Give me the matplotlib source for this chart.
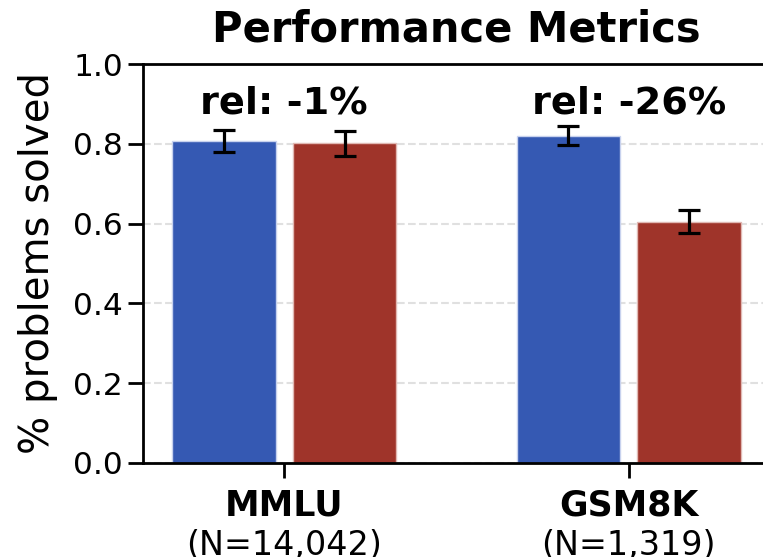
import matplotlib
matplotlib.use("Agg")
import matplotlib.pyplot as plt
import numpy as np

# data
benchmarks = ['MMLU', 'GSM8K']
sample_sizes = ['(N=14,042)', '(N=1,319)']
base_scores = [0.807, 0.820]
base_errors = [0.028, 0.024]
other_scores = [0.801, 0.605]
other_errors = [0.031, 0.029]
rel_labels = ['rel: -1%', 'rel: -26%']

blue = '#3559b3'
red = '#9f342a'

fig = plt.figure(figsize=(7.63, 5.57), dpi=100)
ax = fig.add_axes([143 / 763, 1 - 463 / 557, 627 / 763, 399 / 557])

x = np.arange(len(benchmarks))
width = 0.3
off = 0.175

ax.bar(x - off, base_scores, width, color=blue, edgecolor='#c8d2ee', linewidth=1, zorder=2)
ax.bar(x + off, other_scores, width, color=red, edgecolor='#e0b8b3', linewidth=1, zorder=2)
ax.errorbar(x - off, base_scores, yerr=base_errors, fmt='none', ecolor='black',
            elinewidth=2.3, capsize=8, capthick=2.3, zorder=3)
ax.errorbar(x + off, other_scores, yerr=other_errors, fmt='none', ecolor='black',
            elinewidth=2.3, capsize=8, capthick=2.3, zorder=3)

for i, lab in enumerate(rel_labels):
    ax.text(x[i], 0.877, lab, ha='center', va='baseline', fontsize=27.5, fontweight='bold')

ax.set_xlim(-0.41, 1.41)
ax.set_ylim(0, 1.0)
ax.set_yticks([0.0, 0.2, 0.4, 0.6, 0.8, 1.0])
ax.set_yticklabels(['0.0', '0.2', '0.4', '0.6', '0.8', '1.0'], fontsize=22.5)
ax.set_xticks(x)
ax.set_xticklabels(benchmarks, fontsize=25, fontweight='bold')
# second line under each benchmark name (cut by the bottom edge, as in the reference)
for i, n in enumerate(sample_sizes):
    ax.text(x[i], -0.165, n, transform=ax.get_xaxis_transform(), ha='center', va='top', fontsize=24)

ax.tick_params(axis='both', length=11, width=2)
ax.tick_params(axis='x', pad=7)
for s in ax.spines.values():
    s.set_linewidth(2)

ax.yaxis.grid(True, linestyle='--', color='#e0e0e0', linewidth=1.5, zorder=0)
ax.set_axisbelow(True)

ax.set_ylabel('% problems solved', fontsize=29, labelpad=11)
ax.set_title('Performance Metrics', fontsize=30, fontweight='bold', pad=16)

fig.savefig('out.png', dpi=100)
